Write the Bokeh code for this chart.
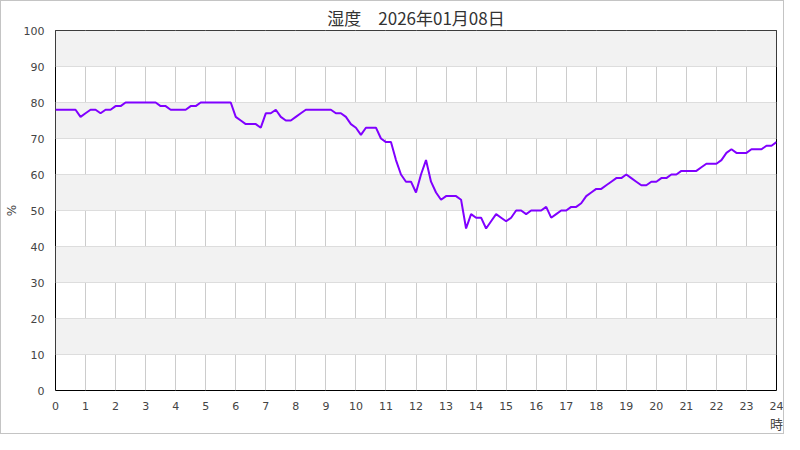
from bokeh.plotting import figure
from bokeh.models import SingleIntervalTicker, Range1d, ColumnDataSource
from bokeh.embed import file_html
from bokeh.resources import INLINE

title_text = "湿度　2026年01月08日"
x_label = "時"
y_label = "%"
step_minutes = 10

humidity = [
    78, 78, 78, 78, 78, 76,   # 0h
    77, 78, 78, 77, 78, 78,   # 1h
    79, 79, 80, 80, 80, 80,   # 2h
    80, 80, 80, 79, 79, 78,   # 3h
    78, 78, 78, 79, 79, 80,   # 4h
    80, 80, 80, 80, 80, 80,   # 5h
    76, 75, 74, 74, 74, 73,   # 6h
    77, 77, 78, 76, 75, 75,   # 7h
    76, 77, 78, 78, 78, 78,   # 8h
    78, 78, 77, 77, 76, 74,   # 9h
    73, 71, 73, 73, 73, 70,   # 10h
    69, 69, 64, 60, 58, 58,   # 11h
    55, 60, 64, 58, 55, 53,   # 12h
    54, 54, 54, 53, 45, 49,   # 13h
    48, 48, 45, 47, 49, 48,   # 14h
    47, 48, 50, 50, 49, 50,   # 15h
    50, 50, 51, 48, 49, 50,   # 16h
    50, 51, 51, 52, 54, 55,   # 17h
    56, 56, 57, 58, 59, 59,   # 18h
    60, 59, 58, 57, 57, 58,   # 19h
    58, 59, 59, 60, 60, 61,   # 20h
    61, 61, 61, 62, 63, 63,   # 21h
    63, 64, 66, 67, 66, 66,   # 22h
    66, 67, 67, 67, 68, 68,   # 23h
    69,                       # 24h
]
hours = [i * step_minutes / 60 for i in range(len(humidity))]

source = ColumnDataSource(data=dict(hour=hours, humidity=humidity))

p = figure(
    width=784, height=434,
    x_range=Range1d(0, 24), y_range=Range1d(0, 100),
    output_backend="svg", toolbar_location=None,
    min_border_left=40, min_border_right=9, min_border_top=0, min_border_bottom=0,
)
p.styles = {"border": "1px solid #c4c4c4"}

p.title.text = title_text
p.title.align = "center"
p.title.text_font = "Noto Sans CJK JP"
p.title.text_font_size = "17px"
p.title.text_font_style = "normal"
p.title.text_color = "#333333"
p.title.standoff = 2

p.line("hour", "humidity", source=source, line_color="#8000ff", line_width=2)

p.xaxis.ticker = SingleIntervalTicker(interval=1, num_minor_ticks=0)
p.yaxis.ticker = SingleIntervalTicker(interval=10, num_minor_ticks=0)
for ax in (p.xaxis, p.yaxis):
    ax.major_tick_line_color = None
    ax.minor_tick_line_color = None
    ax.axis_line_color = None
    ax.major_label_text_font = "DejaVu Sans"
    ax.major_label_text_font_size = "11px"
    ax.major_label_text_color = "#444444"
p.xaxis.major_label_standoff = 5
p.yaxis.major_label_standoff = 5

p.yaxis.axis_label = y_label
p.yaxis.axis_label_text_font = "DejaVu Sans"
p.yaxis.axis_label_text_font_size = "12px"
p.yaxis.axis_label_text_font_style = "normal"
p.yaxis.axis_label_text_color = "#444444"
p.yaxis.axis_label_standoff = 2

xax = p.xaxis[0]
xax.axis_label = x_label
xax.axis_label_align = "end"
xax.axis_label_text_font = "Noto Sans CJK JP"
xax.axis_label_text_font_size = "13px"
xax.axis_label_text_font_style = "normal"
xax.axis_label_text_color = "#444444"
xax.axis_label_standoff = 1

p.xgrid.grid_line_color = "#cccccc"
p.ygrid.grid_line_color = "#dddddd"
p.ygrid.band_fill_color = "#f2f2f2"
p.ygrid.band_fill_alpha = 1.0

p.outline_line_color = "black"
p.outline_line_width = 1
p.background_fill_color = "white"

open("out.html", "w").write(file_html(p, INLINE))
